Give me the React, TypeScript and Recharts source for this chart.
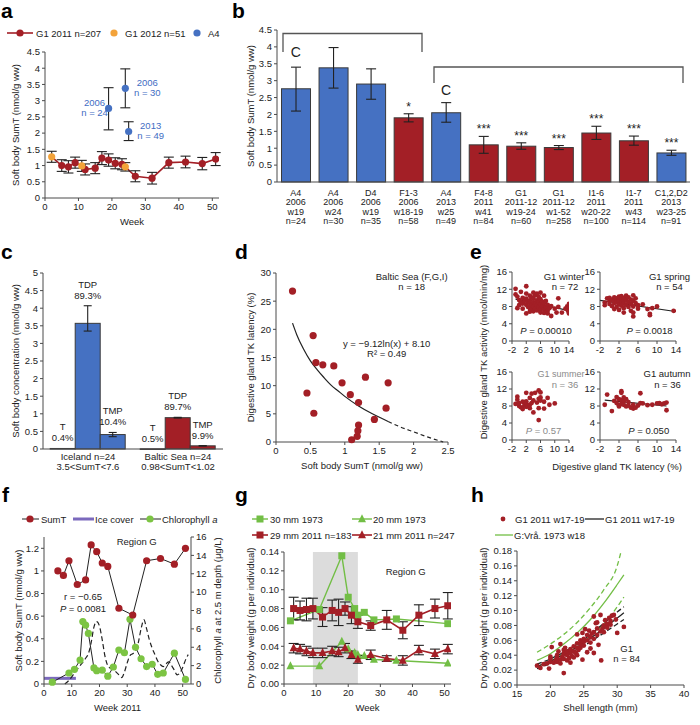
import React from "react";
import {
  ComposedChart,
  Bar,
  Line,
  Scatter,
  XAxis,
  YAxis,
  ErrorBar,
  ReferenceArea,
  ReferenceDot,
} from "recharts";

const FONT = '"Liberation Sans", Arial, sans-serif';
const RED = "#A31F26";
const BLUE = "#4571C2";
const BLUE_TXT = "#3F6DC3";
const ORANGE = "#F3A33A";
const GREEN = "#72BE45";
const DOT_GREEN = "#7CC443";
const PURPLE = "#7B69BD";
const INK = "#222";
const AXIS = "#4a4a4a";
const FS = 9.5;
const TICK = { fontSize: FS, fill: INK };

// ---- a: SumT through the year ----
const aWeeks2011 = [5, 7, 9, 12, 15, 17, 19, 21, 23, 27, 32, 37, 42, 47, 51];
const aSumT2011 = [1.0, 0.96, 1.09, 0.88, 0.92, 1.23, 1.17, 1.07, 1.04, 0.67, 0.61, 1.09, 1.11, 1.06, 1.2];
const aErr2011 = [0.18, 0.19, 0.17, 0.17, 0.17, 0.2, 0.19, 0.17, 0.17, 0.17, 0.18, 0.17, 0.18, 0.19, 0.2];
const aWeeks2012 = [2, 11, 24];
const aSumT2012 = [1.27, 0.99, 0.96];
const aErr2012 = [0.17, 0.17, 0.13];
const aWeeksA4 = [19, 24, 25];
const aSumTA4 = [2.76, 3.38, 2.05];
const aErrA4 = [[0.66, 0.64], [0.6, 0.6], [0.28, 0.3]];
const aYearA4 = ["2006", "2006", "2013"];
const aNA4 = ["n = 24", "n = 30", "n = 49"];
const aYTicks = [0, 0.5, 1, 1.5, 2, 2.5, 3, 3.5, 4, 4.5];
const weekTicks = [0, 10, 20, 30, 40, 50];

// ---- b: sites ----
const bCats = [
  ["A4", "2006", "w19", "n=24"],
  ["A4", "2006", "w24", "n=30"],
  ["D4", "2006", "w19", "n=35"],
  ["F1-3", "2006", "w18-19", "n=58"],
  ["A4", "2013", "w25", "n=49"],
  ["F4-8", "2011", "w41", "n=84"],
  ["G1", "2011-12", "w19-24", "n=60"],
  ["G1", "2011-12", "w1-52", "n=258"],
  ["I1-6", "2011", "w20-22", "n=100"],
  ["I1-7", "2011", "w43", "n=114"],
  ["C1,2,D2", "2013", "w23-25", "n=91"],
];
const bVals = [2.76, 3.38, 2.9, 1.9, 2.05, 1.1, 1.06, 1.02, 1.45, 1.22, 0.86];
const bErr = [[0.66, 0.64], [0.6, 0.6], [0.45, 0.45], [0.12, 0.12], [0.28, 0.3], [0.25, 0.25], [0.09, 0.1], [0.06, 0.06], [0.19, 0.2], [0.13, 0.14], [0.07, 0.08]];
const bReference = [true, true, true, false, true, false, false, false, false, false, true];
const bStars = ["", "", "", "*", "", "***", "***", "***", "***", "***", "***"];

// ---- c: T / TDP / TMP ----
const cSites = ["Iceland n=24", "Baltic Sea n=24"];
const cRanges = ["3.5<SumT<7.6", "0.98<SumT<1.02"];
const cT = [0.015, 0.005];
const cTDP = [3.57, 0.89];
const cTDPErr = [[0.22, 0.5], [0.01, 0.01]];
const cTMP = [0.41, 0.09];
const cTMPErr = [[0.06, 0.06], [0.005, 0.005]];
const cTPct = ["0.4%", "0.5%"];
const cTDPPct = ["89.3%", "89.7%"];
const cTMPPct = ["10.4%", "9.9%"];

// ---- d: latency vs SumT ----
const dSumT = [0.24, 0.45, 0.54, 0.55, 0.58, 0.68, 0.84, 0.96, 1.08, 1.1, 1.18, 1.19, 1.2, 1.2, 1.3, 1.43, 1.6, 1.63];
const dLatency = [26.8, 8.7, 18.9, 5.1, 14.1, 13.7, 13.5, 10.5, 8.4, 0.4, 1.0, 2.0, 3.0, 7.0, 11.5, 4.0, 6.0, 10.5];
const dFitX = [0.24, 0.3, 0.4, 0.5, 0.6, 0.7, 0.8, 0.9, 1.0, 1.2, 1.4, 1.63];
const dFitY = [21.1, 19.1, 16.5, 14.4, 12.8, 11.4, 10.1, 9.1, 8.1, 6.4, 5.0, 3.65];
const dExtX = [1.63, 1.8, 2.0, 2.2, 2.43];
const dExtY = [3.65, 2.7, 1.8, 0.9, 0.0];

// ---- e: TK activity vs latency, by season ----
const eWinter = [
  [-1, 12.1], [-1, 10.8], [-0.5, 10.3], [-0.5, 7.6], [0, 9.5], [0, 8.3], [0.5, 11.4], [0.5, 9.0], [1, 10.0], [1, 8.7],
  [1, 7.5], [1.5, 9.3], [2, 12.7], [2, 11.0], [2, 9.8], [2, 8.4], [2, 6.4], [2.5, 9.1], [2.5, 7.9], [3, 10.5],
  [3, 9.4], [3, 8.8], [3, 7.6], [3, 6.8], [3.5, 10.1], [3.5, 8.2], [3.5, 7.2], [4, 11.2], [4, 9.9], [4, 9.0],
  [4, 8.0], [4, 6.9], [4.5, 10.6], [4.5, 8.6], [4.5, 7.5], [5, 11.0], [5, 9.4], [5, 8.3], [5, 7.1], [5.5, 10.2],
  [5.5, 9.0], [5.5, 7.8], [6, 11.2], [6, 9.7], [6, 8.5], [6, 7.4], [6, 6.6], [6.5, 9.1], [6.5, 8.0], [7, 10.5],
  [7, 8.8], [7, 7.3], [7, 6.5], [7.5, 9.3], [7.5, 7.9], [8, 8.4], [8, 7.0], [8, 6.4], [8.5, 7.6], [9, 5.8],
  [9, 8.1], [10, 7.5], [10.5, 6.6], [11, 9.9], [11, 7.9], [12, 6.6], [13, 7.5], [13.5, 8.0], [14, 8.6], [14, 7.7],
  [14, 6.4], [13.8, 6.9],
];
const eSpring = [
  [-1, 8.9], [-1, 8.3], [-0.5, 9.9], [0, 10.0], [0, 9.2], [0, 8.6], [0.5, 9.6], [0.5, 8.1], [1, 10.1], [1, 9.4],
  [1, 8.8], [1, 7.4], [1.5, 9.9], [1.5, 9.0], [1.5, 7.9], [2, 10.3], [2, 9.6], [2, 9.1], [2, 8.5], [2, 7.2],
  [2.5, 10.4], [2.5, 9.8], [2.5, 8.9], [2.5, 8.2], [3, 10.0], [3, 9.3], [3, 8.7], [3, 7.6], [3, 6.6], [3.5, 10.5],
  [3.5, 9.5], [3.5, 8.4], [4, 10.1], [4, 9.0], [4, 7.9], [4.5, 9.6], [4.5, 8.6], [4.5, 7.0], [5, 10.6], [5, 9.3],
  [5, 8.0], [5, 5.7], [5, 6.6], [5.5, 9.9], [5.5, 8.8], [6, 8.3], [6, 7.5], [7, 8.5], [8, 7.4], [8.5, 6.3],
  [8.5, 6.0], [9, 7.6], [10, 8.0], [13.5, 7.0],
];
const eSummer = [
  [-1, 8.5], [-0.5, 9.5], [-0.5, 10.2], [0, 8.0], [0, 8.7], [0.5, 7.7], [1, 9.0], [1, 7.3], [1.5, 8.2], [1.5, 8.8],
  [2, 11.1], [2, 9.1], [2, 7.8], [2, 8.5], [2.5, 8.0], [3, 9.9], [3, 8.3], [3, 7.5], [3.5, 10.9], [3.5, 8.7],
  [4, 6.5], [4, 9.3], [4.5, 11.1], [5, 8.8], [5.5, 9.7], [5.5, 7.5], [5.5, 11.7], [5.5, 4.7], [6, 11.2], [6, 10.0],
  [6, 9.3], [7, 7.4], [7, 9.0], [8, 9.9], [8.5, 8.3], [10, 8.6],
];
const eAutumn = [
  [-1, 8.3], [-0.5, 10.7], [0.5, 6.8], [1, 9.2], [1.5, 8.7], [1.5, 10.1], [2, 9.6], [2, 8.2], [2, 7.9], [2.5, 11.5],
  [2.5, 11.1], [2.5, 9.4], [2.5, 8.5], [3, 10.0], [3, 9.1], [3, 8.3], [3.5, 9.6], [3.5, 7.9], [4, 8.9], [4, 8.1],
  [4.5, 7.6], [5, 8.3], [5, 7.4], [5.5, 7.6], [6, 8.1], [6.5, 11.0], [6.5, 8.7], [7, 8.6], [8, 8.2], [9, 8.3],
  [10, 8.6], [10.5, 8.7], [11, 8.4], [11.5, 8.6], [12, 8.8], [12, 7.0],
];
const eWinterFit = [[-1, 9.7], [14.3, 7.0]];
const eSpringFit = [[-2, 9.4], [13.5, 6.9]];
const eAutumnFit = [[-1, 9.4], [12, 8.0]];
const eXTicks = [-2, 2, 6, 10, 14];
const eYTicks = [0, 4, 8, 12, 16];

// ---- f: SumT, ice, chlorophyll ----
const fChlWeeks = [3, 9, 11, 13, 14, 15, 16, 18, 19, 21, 23, 25, 27, 29, 31, 33, 35, 37, 39, 41, 43, 47, 51];
const fChl = [0.2, 1.2, 1.6, 2.6, 6.8, 6.4, 5.5, 1.75, 1.45, 1.5, 0.85, 1.85, 3.7, 3.4, 7.05, 4.0, 2.75, 1.9, 2.15, 1.05, 1.2, 3.35, 0.5];
const fModelWeeks = [7.5, 9, 11, 13, 15, 16, 17, 18, 19, 20, 21, 22, 23, 24, 25, 26, 27, 28, 29, 30, 31, 32, 33, 34, 35, 36, 37, 38, 39, 40, 41, 42, 43, 44, 45, 46, 47, 48, 49, 50, 51, 52];
const fModel = [0, 0.4, 1.2, 2.0, 2.8, 3.3, 4.5, 6.2, 6.8, 6.3, 4.8, 3.0, 2.0, 1.7, 1.6, 1.3, 1.0, 0.7, 1.3, 2.3, 3.1, 3.3, 3.6, 4.5, 6.0, 7.0, 6.0, 4.8, 3.9, 3.2, 2.5, 2.1, 1.9, 2.2, 2.4, 2.0, 1.5, 1.0, 1.2, 1.8, 2.6, 3.2];
const fIceWeeks = [0, 11.5];
const fIce = [0.05, 0.05];
const fLeftTicks = [0, 0.2, 0.4, 0.6, 0.8, 1, 1.2];
const fRightTicks = [0, 2, 4, 6, 8, 10, 12, 14, 16];

// ---- g: dry body weight by week ----
const g1973Weeks = [2, 11, 18, 20, 22, 23, 25, 28, 35, 51];
const g30mm1973 = [0.067, 0.079, 0.136, 0.092, 0.08, 0.073, 0.076, 0.068, 0.069, 0.064];
const g20mm1973 = [0.019, 0.019, 0.045, 0.037, 0.033, 0.031, 0.03, 0.026, 0.025, 0.022];
const g2011Weeks = [3, 5, 7, 9, 12, 15, 17, 19, 21, 23, 27, 32, 37, 42, 47, 51];
const g29mm2011 = [0.08, 0.078, 0.079, 0.08, 0.071, 0.078, 0.076, 0.08, 0.073, 0.066, 0.062, 0.068, 0.057, 0.073, 0.08, 0.083];
const g29Err = [0.012, 0.01, 0.012, 0.011, 0.01, 0.011, 0.014, 0.007, 0.009, 0.007, 0.005, 0.01, 0.009, 0.011, 0.01, 0.014];
const g21mm2011 = [0.038, 0.037, 0.035, 0.033, 0.033, 0.035, 0.034, 0.038, 0.031, 0.026, 0.031, 0.027, 0.025, 0.036, 0.032, 0.037];
const g21Err = [0.005, 0.005, 0.005, 0.005, 0.005, 0.005, 0.005, 0.005, 0.004, 0.004, 0.005, 0.003, 0.005, 0.005, 0.005, 0.005];
const gYTicks = [0, 0.02, 0.04, 0.06, 0.08, 0.1, 0.12, 0.14];

// ---- h: weight vs shell length ----
const hPoints = [
  [18, 0.026], [18.5, 0.023], [19, 0.028], [19.5, 0.029], [19.8, 0.022], [20, 0.031], [20, 0.035], [20, 0.038], [20.2, 0.051], [20.5, 0.03],
  [20.8, 0.033], [21, 0.036], [21, 0.04], [21, 0.031], [21.2, 0.045], [21.5, 0.034], [21.5, 0.029], [21.5, 0.055], [21.8, 0.038], [22, 0.042],
  [22, 0.035], [22, 0.047], [22, 0.016], [22.2, 0.05], [22.5, 0.033], [22.5, 0.04], [22.5, 0.045], [22.8, 0.036], [23, 0.03], [23, 0.043],
  [23, 0.048], [23.2, 0.039], [23.5, 0.037], [23.5, 0.045], [23.5, 0.052], [23.8, 0.043], [24, 0.05], [24, 0.056], [24, 0.04], [24, 0.068],
  [24.2, 0.047], [24.5, 0.055], [24.5, 0.06], [24.5, 0.05], [24.8, 0.034], [24.8, 0.07], [25, 0.053], [25, 0.058], [25, 0.062], [25.2, 0.075],
  [25.5, 0.044], [25.5, 0.06], [25.5, 0.067], [25.8, 0.073], [26, 0.057], [26, 0.064], [26, 0.049], [26.2, 0.069], [26.5, 0.043], [26.5, 0.071],
  [26.5, 0.092], [26.5, 0.062], [26.8, 0.083], [27, 0.076], [27, 0.067], [27, 0.084], [27.2, 0.054], [27.5, 0.094], [27.5, 0.072], [27.6, 0.033],
  [27.8, 0.076], [28, 0.08], [28, 0.071], [28.2, 0.087], [28.5, 0.082], [28.5, 0.077], [28.8, 0.09], [29, 0.086], [29, 0.081], [29.2, 0.093],
  [29.5, 0.094], [29.8, 0.088], [30, 0.07], [31, 0.078],
];
const hLen = [18, 20, 22, 24, 26, 28, 30, 31];
const hFit2011 = [0.025, 0.032, 0.041, 0.051, 0.063, 0.076, 0.09, 0.097];
const hFit2011Hi = [0.028, 0.035, 0.044, 0.055, 0.068, 0.083, 0.098, 0.105];
const hFit2011Lo = [0.022, 0.029, 0.038, 0.048, 0.058, 0.07, 0.082, 0.088];
const hLen1973 = [18, 20, 22, 24, 26, 28, 30, 31];
const hFit1973 = [0.033, 0.042, 0.055, 0.07, 0.088, 0.11, 0.135, 0.148];
const hLen1973Hi = [18, 20, 22, 24, 26, 28, 30, 30.6];
const hFit1973Hi = [0.044, 0.055, 0.068, 0.084, 0.104, 0.128, 0.16, 0.18];
const hFit1973Lo = [0.025, 0.032, 0.042, 0.053, 0.066, 0.082, 0.105, 0.118];
const hXTicks = [15, 20, 25, 30, 35, 40];
const hYTicks = [0, 0.02, 0.04, 0.06, 0.08, 0.1, 0.12, 0.14, 0.16, 0.18];

const xy = (xs: number[], ys: number[]) => xs.map((x, i) => ({ x, y: ys[i] }));
const pairs = (p: number[][]) => p.map(([x, y]) => ({ x, y }));

const vLabel = (content: React.ReactNode, dx: number) => (p: any) => {
  const vb = p.viewBox;
  const cx = vb.x + dx;
  const cy = vb.y + vb.height / 2;
  return (
    <text x={cx} y={cy} transform={`rotate(-90 ${cx} ${cy})`} textAnchor="middle" dominantBaseline="central" fontSize={FS} fill={INK}>
      {content}
    </text>
  );
};
const hLabel = (content: React.ReactNode, dy: number) => (p: any) => {
  const vb = p.viewBox;
  return (
    <text x={vb.x + vb.width / 2} y={vb.y + dy} textAnchor="middle" fontSize={FS} fill={INK}>
      {content}
    </text>
  );
};
const dot = (r: number, fill: string) => (p: any) => <circle key={p.index} cx={p.cx} cy={p.cy} r={r} fill={fill} />;
const square = (s: number, fill: string) => (p: any) => <rect key={p.index} x={p.cx - s / 2} y={p.cy - s / 2} width={s} height={s} fill={fill} />;
const triangle = (s: number, fill: string) => (p: any) => (
  <path key={p.index} d={`M${p.cx},${p.cy - s * 0.6}L${p.cx + s / 2},${p.cy + s * 0.4}L${p.cx - s / 2},${p.cy + s * 0.4}Z`} fill={fill} />
);
const ax = { stroke: AXIS, tick: TICK, tickSize: 3 };

const at = (left: number, top: number, el: React.ReactNode) => <div style={{ position: "absolute", left, top }}>{el}</div>;

function PanelA() {
  const all = [...xy(aWeeks2012, aSumT2012), ...xy(aWeeks2011, aSumT2011)].sort((p, q) => p.x - q.x);
  const red = aWeeks2011.map((x, i) => ({ x, y: aSumT2011[i], e: aErr2011[i] }));
  const orange = aWeeks2012.map((x, i) => ({ x, y: aSumT2012[i], e: aErr2012[i] }));
  const blue = aWeeksA4.map((x, i) => ({ x, y: aSumTA4[i], e: aErrA4[i], year: aYearA4[i], n: aNA4[i], left: i === 0 }));
  const blueShape = (p: any) => {
    const q = p.payload;
    const tx = q.left ? p.cx - 14 : p.cx + 22;
    return (
      <g>
        <circle cx={p.cx} cy={p.cy} r={3.6} fill={BLUE} />
        <text x={tx} y={p.cy - 2.5} textAnchor="middle" fontSize={FS} fill={BLUE_TXT}>{q.year}</text>
        <text x={tx} y={p.cy + 8} textAnchor="middle" fontSize={FS} fill={BLUE_TXT}>{q.n}</text>
      </g>
    );
  };
  return (
    <ComposedChart width={225} height={190} margin={{ top: 12, right: 6, bottom: 0, left: 0 }}>
      <XAxis type="number" dataKey="x" domain={[0, 52]} ticks={weekTicks} interval={0} allowDataOverflow height={32} {...ax} label={hLabel("Week", 27)} />
      <YAxis type="number" dataKey="y" domain={[0, 4.5]} ticks={aYTicks} interval={0} width={45} {...ax} label={vLabel("Soft body SumT (nmol/g ww)", 15)} />
      <Line data={all} dataKey="y" stroke={RED} strokeWidth={1.6} dot={false} isAnimationActive={false} />
      <Scatter data={red} shape={dot(3.6, RED)} isAnimationActive={false}>
        <ErrorBar dataKey="e" direction="y" width={5} stroke={INK} strokeWidth={1.1} />
      </Scatter>
      <Scatter data={orange} shape={dot(3.6, ORANGE)} isAnimationActive={false}>
        <ErrorBar dataKey="e" direction="y" width={5} stroke={INK} strokeWidth={1.1} />
      </Scatter>
      <Scatter data={blue} shape={blueShape} isAnimationActive={false}>
        <ErrorBar dataKey="e" direction="y" width={5} stroke={INK} strokeWidth={1.1} />
      </Scatter>
    </ComposedChart>
  );
}

const B_PPU = 152 / 4.5;
function PanelB() {
  const data = bVals.map((v, i) => ({ name: bCats[i].join("|"), v, e: bErr[i], ref: bReference[i], star: bStars[i] }));
  const shape = (p: any) => {
    const q = p.payload;
    const top = p.y - q.e[1] * B_PPU;
    return (
      <g>
        <rect x={p.x} y={p.y} width={p.width} height={p.height} fill={q.ref ? BLUE : RED} stroke="#3a3a3a" strokeWidth={1} />
        {q.star ? (
          <text x={p.x + p.width / 2} y={top - 3} textAnchor="middle" fontSize={12} fill={INK}>{q.star}</text>
        ) : null}
      </g>
    );
  };
  const tick = (p: any) => {
    const lines = String(p.payload.value).split("|");
    return (
      <text x={p.x} y={p.y} textAnchor="middle" fontSize={9} fill={INK}>
        {lines.map((l, i) => (
          <tspan key={i} x={p.x} dy={i === 0 ? 9 : 9.3}>{l}</tspan>
        ))}
      </text>
    );
  };
  const letter = (p: any) => <text x={p.cx} y={p.cy + 5} textAnchor="middle" fontSize={14} fill={INK}>C</text>;
  return (
    <ComposedChart width={475} height={212} data={data} barCategoryGap="12%" margin={{ top: 10, right: 10, bottom: 0, left: 0 }}>
      <XAxis dataKey="name" interval={0} tickLine={false} height={50} stroke={AXIS} tick={tick} tickSize={3} />
      <YAxis type="number" domain={[0, 4.5]} ticks={aYTicks} interval={0} width={52} {...ax} label={vLabel("Soft body SumT (nmol/g ww)", 25)} />
      <Bar dataKey="v" shape={shape} isAnimationActive={false}>
        <ErrorBar dataKey="e" direction="y" width={5} stroke={INK} strokeWidth={1.1} />
      </Bar>
      <ReferenceDot x={data[0].name} y={3.85} shape={letter} ifOverflow="visible" />
      <ReferenceDot x={data[4].name} y={2.72} shape={letter} ifOverflow="visible" />
    </ComposedChart>
  );
}

const C_PPU = 176 / 5;
const cFill = [BLUE, RED];
function PanelC() {
  const data = cSites.map((site, i) => ({
    site,
    range: cRanges[i],
    T: cT[i],
    TDP: cTDP[i],
    TMP: cTMP[i],
    tdpE: cTDPErr[i],
    tmpE: cTMPErr[i],
    tP: cTPct[i],
    tdpP: cTDPPct[i],
    tmpP: cTMPPct[i],
    fill: cFill[i],
  }));
  const shape = (name: string, key: string, errKey: string | null, pctKey: string) => (p: any) => {
    const q = p.payload;
    const bottom = p.y + p.height;
    const top = bottom - (q[key] + (errKey ? q[errKey][1] : 0)) * C_PPU;
    const cx = p.x + p.width / 2;
    return (
      <g>
        <rect x={p.x} y={p.y} width={p.width} height={Math.max(p.height, 0.6)} fill={q.fill} stroke="#3a3a3a" strokeWidth={1} />
        <text x={cx} y={top - 18} textAnchor="middle" fontSize={FS} fill={INK}>{name}</text>
        <text x={cx} y={top - 7} textAnchor="middle" fontSize={FS} fill={INK}>{q[pctKey]}</text>
      </g>
    );
  };
  const tick = (p: any) => {
    const i = cSites.indexOf(p.payload.value);
    return (
      <text x={p.x} y={p.y} textAnchor="middle" fontSize={FS} fill={INK}>
        <tspan x={p.x} dy={6}>{cSites[i]}</tspan>
        <tspan x={p.x} dy={10}>{cRanges[i]}</tspan>
      </text>
    );
  };
  return (
    <ComposedChart width={235} height={217} data={data} barGap={0} barCategoryGap="8%" margin={{ top: 18, right: 12, bottom: 0, left: 0 }}>
      <XAxis dataKey="site" interval={0} height={23} stroke={AXIS} tick={tick} tickSize={3} tickLine={false} />
      <YAxis type="number" domain={[0, 5]} ticks={[0, 0.5, 1, 1.5, 2, 2.5, 3, 3.5, 4, 4.5, 5]} interval={0} width={43} {...ax} label={vLabel("Soft body concentration (nmol/g ww)", 15)} />
      <Bar dataKey="T" shape={shape("T", "T", null, "tP")} isAnimationActive={false} />
      <Bar dataKey="TDP" shape={shape("TDP", "TDP", "tdpE", "tdpP")} isAnimationActive={false}>
        <ErrorBar dataKey="tdpE" direction="y" width={4} stroke={INK} strokeWidth={1.1} />
      </Bar>
      <Bar dataKey="TMP" shape={shape("TMP", "TMP", "tmpE", "tmpP")} isAnimationActive={false}>
        <ErrorBar dataKey="tmpE" direction="y" width={4} stroke={INK} strokeWidth={1.1} />
      </Bar>
    </ComposedChart>
  );
}

function PanelD() {
  return (
    <ComposedChart width={235} height={217} margin={{ top: 18, right: 22, bottom: 0, left: 0 }}>
      <XAxis type="number" dataKey="x" domain={[0, 2.5]} ticks={[0, 0.5, 1, 1.5, 2, 2.5]} interval={0} allowDataOverflow height={30} {...ax} label={hLabel("Soft body SumT (nmol/g ww)", 26.5)} />
      <YAxis type="number" dataKey="y" domain={[0, 30]} ticks={[0, 5, 10, 15, 20, 25, 30]} interval={0} width={41} {...ax} label={vLabel("Digestive gland TK latency (%)", 15)} />
      <Line data={xy(dFitX, dFitY)} dataKey="y" type="monotone" stroke={INK} strokeWidth={1.2} dot={false} isAnimationActive={false} />
      <Line data={xy(dExtX, dExtY)} dataKey="y" type="monotone" stroke={INK} strokeWidth={1.2} strokeDasharray="4 3" dot={false} isAnimationActive={false} />
      <Scatter data={xy(dSumT, dLatency)} shape={dot(3.6, RED)} isAnimationActive={false} />
    </ComposedChart>
  );
}

function EPlot({ pts, fit, width, height }: { pts: number[][]; fit?: number[][]; width: number; height: number }) {
  return (
    <ComposedChart width={width} height={height} margin={{ top: 10, right: 10, bottom: 0, left: 0 }}>
      <XAxis type="number" dataKey="x" domain={[-2, 14]} ticks={eXTicks} interval={0} allowDataOverflow height={16} {...ax} />
      <YAxis type="number" dataKey="y" domain={[0, 16]} ticks={eYTicks} interval={0} width={20} {...ax} />
      <Scatter data={pairs(pts)} shape={dot(2.4, RED)} isAnimationActive={false} />
      {fit ? <Line data={pairs(fit)} dataKey="y" stroke={INK} strokeWidth={1.2} dot={false} isAnimationActive={false} /> : null}
    </ComposedChart>
  );
}

function PanelF() {
  return (
    <ComposedChart width={227} height={190} margin={{ top: 10, right: 0, bottom: 0, left: 0 }}>
      <XAxis type="number" dataKey="x" domain={[0, 53]} ticks={weekTicks} interval={0} allowDataOverflow height={33} {...ax} label={hLabel("Week 2011", 27)} />
      <YAxis yAxisId="l" type="number" dataKey="y" domain={[0, 1.3]} ticks={fLeftTicks} interval={0} width={44} {...ax} label={vLabel("Soft body SumT (nmol/g ww)", 18)} />
      <YAxis
        yAxisId="r"
        orientation="right"
        type="number"
        dataKey="y"
        domain={[0, 16]}
        ticks={fRightTicks}
        interval={0}
        width={36}
        {...ax}
        label={vLabel(
          <>
            Chlorophyll <tspan fontStyle="italic">a</tspan> at 2.5 m depth (μg/L)
          </>,
          26
        )}
      />
      <Line yAxisId="l" data={xy(fIceWeeks, fIce)} dataKey="y" stroke={PURPLE} strokeWidth={3} dot={false} isAnimationActive={false} />
      <Line yAxisId="r" data={xy(fModelWeeks, fModel)} dataKey="y" type="monotone" stroke={INK} strokeWidth={1.2} strokeDasharray="5 3" dot={false} isAnimationActive={false} />
      <Line yAxisId="r" data={xy(fChlWeeks, fChl)} dataKey="y" stroke={INK} strokeWidth={1} dot={dot(3.6, DOT_GREEN)} isAnimationActive={false} />
      <Line yAxisId="l" data={xy(aWeeks2011, aSumT2011)} dataKey="y" stroke={INK} strokeWidth={1} dot={dot(3.6, RED)} isAnimationActive={false} />
    </ComposedChart>
  );
}

function PanelG() {
  const red29 = g2011Weeks.map((x, i) => ({ x, y: g29mm2011[i], e: g29Err[i] }));
  const red21 = g2011Weeks.map((x, i) => ({ x, y: g21mm2011[i], e: g21Err[i] }));
  return (
    <ComposedChart width={226} height={172} margin={{ top: 7, right: 10, bottom: 0, left: 0 }}>
      <XAxis type="number" dataKey="x" domain={[0, 52]} ticks={weekTicks} interval={0} allowDataOverflow height={33} {...ax} label={hLabel("Week", 27)} />
      <YAxis type="number" dataKey="y" domain={[0, 0.14]} ticks={gYTicks} interval={0} width={49} {...ax} tickFormatter={(v: number) => v.toFixed(2)} label={vLabel("Dry body weight (g per individual)", 15)} />
      <ReferenceArea x1={9} x2={23} y1={0} y2={0.14} fill="#DCDCDC" fillOpacity={1} stroke="none" />
      <Line data={xy(g1973Weeks, g30mm1973)} dataKey="y" stroke={GREEN} strokeWidth={1.4} dot={square(7, GREEN)} isAnimationActive={false} />
      <Line data={xy(g1973Weeks, g20mm1973)} dataKey="y" stroke={GREEN} strokeWidth={1.4} dot={triangle(8, GREEN)} isAnimationActive={false} />
      <Line data={red29} dataKey="y" stroke={RED} strokeWidth={1.6} dot={square(7, RED)} isAnimationActive={false}>
        <ErrorBar dataKey="e" direction="y" width={5} stroke={INK} strokeWidth={1.1} />
      </Line>
      <Line data={red21} dataKey="y" stroke={RED} strokeWidth={1.6} dot={triangle(8, RED)} isAnimationActive={false}>
        <ErrorBar dataKey="e" direction="y" width={5} stroke={INK} strokeWidth={1.1} />
      </Line>
    </ComposedChart>
  );
}

function PanelH() {
  const ln = (xs: number[], ys: number[], color: string, dash?: string) => (
    <Line data={xy(xs, ys)} dataKey="y" type="monotone" stroke={color} strokeWidth={1.3} strokeDasharray={dash} dot={false} isAnimationActive={false} />
  );
  return (
    <ComposedChart width={226} height={172} margin={{ top: 6, right: 12, bottom: 0, left: 0 }}>
      <XAxis type="number" dataKey="x" domain={[15, 40]} ticks={hXTicks} interval={0} allowDataOverflow height={32} {...ax} label={hLabel("Shell length (mm)", 26)} />
      <YAxis type="number" dataKey="y" domain={[0, 0.18]} ticks={hYTicks} interval={0} width={47} {...ax} tickFormatter={(v: number) => v.toFixed(2)} label={vLabel("Dry body weight (g per individual)", 13)} />
      <Scatter data={pairs(hPoints)} shape={dot(2.4, RED)} isAnimationActive={false} />
      {ln(hLen1973, hFit1973, GREEN)}
      {ln(hLen1973Hi, hFit1973Hi, GREEN, "5 3")}
      {ln(hLen1973, hFit1973Lo, GREEN, "5 3")}
      {ln(hLen, hFit2011, INK)}
      {ln(hLen, hFit2011Hi, INK, "5 3")}
      {ln(hLen, hFit2011Lo, INK, "5 3")}
    </ComposedChart>
  );
}

function Overlay() {
  const T = (x: number, y: number, s: React.ReactNode, o: any = {}) => (
    <text x={x} y={y} fontSize={FS} fill={INK} {...o}>{s}</text>
  );
  const C = (x: number, y: number, s: React.ReactNode, o: any = {}) => T(x, y, s, { textAnchor: "middle", ...o });
  const L = (x: number, y: number, s: string) => (
    <text x={x} y={y} fontSize={21} fontWeight="bold" fill="#000">{s}</text>
  );
  const P = (v: string) => (
    <>
      <tspan fontStyle="italic">P</tspan> = {v}
    </>
  );
  const seg = (x1: number, x2: number, y: number, c: string, w = 1.3) => <line x1={x1} x2={x2} y1={y} y2={y} stroke={c} strokeWidth={w} />;
  return (
    <svg width={700} height={725} style={{ position: "absolute", left: 0, top: 0, pointerEvents: "none" }} fontFamily={FONT}>
      {L(1, 18, "a")}
      {L(232, 18, "b")}
      {L(1, 259, "c")}
      {L(235, 259, "d")}
      {L(470, 259, "e")}
      {L(2, 502, "f")}
      {L(235, 502, "g")}
      {L(471, 502, "h")}

      {/* a legend */}
      {seg(7, 33, 33, RED, 1.6)}
      <circle cx={20} cy={33} r={3.6} fill={RED} />
      {T(36, 36.5, "G1 2011 n=207")}
      <circle cx={114} cy={33} r={3.6} fill={ORANGE} />
      {T(125, 36.5, "G1 2012 n=51")}
      <circle cx={197} cy={33} r={3.6} fill={BLUE} />
      {T(208, 36.5, "A4")}

      {/* b comparison brackets */}
      <path d="M283,52V33.5H422V52" fill="none" stroke="#555" strokeWidth={1.3} />
      <path d="M434,83V67H683V83" fill="none" stroke="#555" strokeWidth={1.3} />

      {/* d notes */}
      {C(411.7, 280, "Baltic Sea (F,G,I)")}
      {C(411.7, 290, "n = 18")}
      {C(386.7, 347, "y = −9.12ln(x) + 8.10")}
      {C(386.7, 357, "R² = 0.49")}

      {/* e notes */}
      {C(564, 280, "G1 winter")}
      {C(565, 290, "n = 72")}
      {C(546, 333.5, P("0.00010"))}
      {C(669.5, 280, "G1 spring")}
      {C(669.5, 290, "n = 54")}
      {C(649.5, 333.5, P("0.0018"))}
      {C(561, 377, "G1 summer", { fill: "#8a8a8a", fontSize: 9 })}
      {C(565, 387.5, "n = 36", { fill: "#8a8a8a" })}
      {C(543.5, 433.5, P("0.57"), { fill: "#8a8a8a" })}
      {C(667, 377, "G1 autumn")}
      {C(667.5, 387.5, "n = 36")}
      {C(648.7, 433.5, P("0.050"))}
      <text x={483} y={352} transform="rotate(-90 483 352)" textAnchor="middle" dominantBaseline="central" fontSize={FS} fill={INK}>
        Digestive gland TK activity (nmol/min/mg)
      </text>
      {C(617, 470, "Digestive gland TK latency (%)")}

      {/* f legend + notes */}
      {seg(22, 39, 519, INK, 1)}
      <circle cx={30} cy={519} r={3.6} fill={RED} />
      {T(41, 522.5, "SumT")}
      {seg(73, 94, 519, PURPLE, 3)}
      {T(95, 522.5, "Ice cover")}
      {seg(140, 161, 519, INK, 1)}
      <circle cx={150} cy={519} r={3.6} fill={DOT_GREEN} />
      {T(162, 522.5, <>Chlorophyll <tspan fontStyle="italic">a</tspan></>)}
      {C(136.7, 544.5, "Region G")}
      {C(83, 600, "r = −0.65")}
      {C(83, 611.8, P("0.0081"))}

      {/* g legend + note */}
      {seg(252, 268, 519, GREEN, 1.4)}
      <rect x={256.5} y={515.5} width={7} height={7} fill={GREEN} />
      {T(270, 522.5, "30 mm 1973")}
      {seg(352, 372, 519, GREEN, 1.4)}
      <path d="M362,514.2L366,522.2L358,522.2Z" fill={GREEN} />
      {T(373, 522.5, "20 mm 1973")}
      {seg(252, 268, 535, RED, 1.6)}
      <rect x={256.5} y={531.5} width={7} height={7} fill={RED} />
      {T(270, 538.5, "29 mm 2011 n=183")}
      {seg(352, 372, 535, RED, 1.6)}
      <path d="M362,530.2L366,538.2L358,538.2Z" fill={RED} />
      {T(373, 538.5, "21 mm 2011 n=247")}
      {C(405.7, 575, "Region G")}

      {/* h legend + note */}
      <circle cx={503} cy={519} r={2.4} fill={RED} />
      {T(515, 522.5, "G1 2011 w17-19")}
      {seg(585, 604, 519, INK, 1.3)}
      {T(605, 522.5, "G1 2011 w17-19")}
      {seg(495, 513, 535, GREEN, 1.3)}
      {T(514, 538.5, "G:Vrå. 1973 w18")}
      {C(626.7, 652, "G1")}
      {C(626.7, 662, "n = 84")}
    </svg>
  );
}

export default function App() {
  return (
    <div style={{ position: "absolute", left: 0, top: 0, width: 700, height: 725, background: "#fff", fontFamily: FONT, overflow: "hidden" }}>
      {at(0, 40, <PanelA />)}
      {at(225, 20, <PanelB />)}
      {at(0, 255, <PanelC />)}
      {at(235, 255, <PanelD />)}
      {at(492, 262, <EPlot pts={eWinter} fit={eWinterFit} width={87} height={95} />)}
      {at(580, 262, <EPlot pts={eSpring} fit={eSpringFit} width={106} height={95} />)}
      {at(492, 362, <EPlot pts={eSummer} width={87} height={94} />)}
      {at(580, 362, <EPlot pts={eAutumn} fit={eAutumnFit} width={106} height={94} />)}
      {at(0, 527, <PanelF />)}
      {at(235, 545, <PanelG />)}
      {at(470, 545, <PanelH />)}
      <Overlay />
    </div>
  );
}
